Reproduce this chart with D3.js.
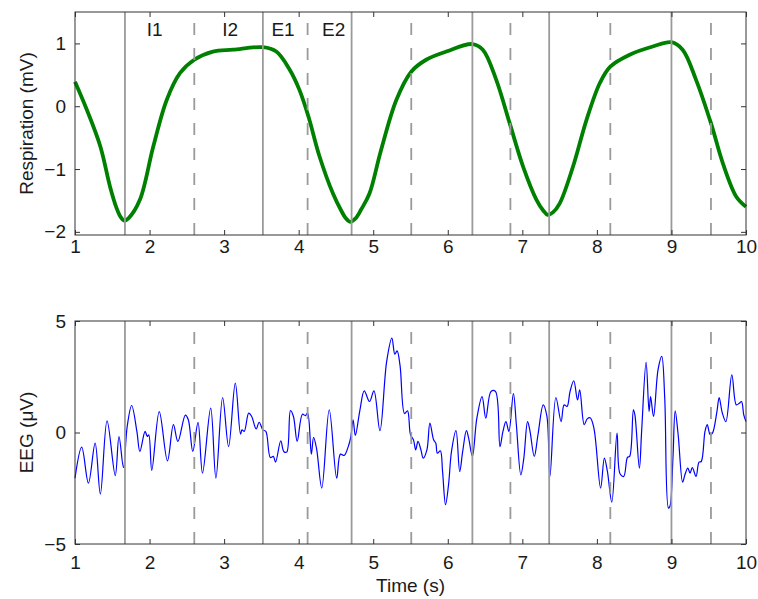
<!DOCTYPE html>
<html>
<head>
<meta charset="utf-8">
<script src="https://cdn.jsdelivr.net/npm/d3@7"></script>
<style>
    body { margin: 0; background: #fff; }
    text { font-family: "Liberation Sans", Arial, sans-serif; fill: #1a1a1a; }
    .tick line { stroke: #333; }
    .tick text { font-size: 19px; }
</style>
</head>
<body>
<div id="chart"></div>
<script>
// Tick values shared by both panels
const xTicks = [1, 2, 3, 4, 5, 6, 7, 8, 9, 10];
const respTicks = [-2, -1, 0, 1];
const eegTicks = [-5, 0, 5];

// Phase boundaries (s): solid and dashed markers
const solidMarks = [1.67, 3.52, 4.71, 6.33, 7.36, 9.0];
const dashedMarks = [2.6, 4.12, 5.51, 6.84, 8.18, 9.53];

const phaseLabels = ['I1', 'I2', 'E1', 'E2'];
const phaseLabelTime = [2.07, 3.08, 3.79, 4.47];

// Respiration signal (mV)
const respTime = [1.00, 1.16, 1.34, 1.47, 1.56, 1.61, 1.66, 1.72, 1.87, 2.05, 2.23, 2.41, 2.60, 2.85, 3.12,
    3.52, 3.70, 3.88, 4.01, 4.13, 4.28, 4.46, 4.57, 4.63, 4.69, 4.76, 4.84, 4.95, 5.10, 5.31, 5.51, 5.71, 5.98,
    6.33, 6.47, 6.65, 6.83, 7.01, 7.19, 7.28, 7.34, 7.41, 7.50, 7.68, 7.86, 8.04, 8.18, 8.44, 8.75, 9.00, 9.15,
    9.33, 9.53, 9.69, 9.87, 10.0];
const respValue = [0.39, -0.06, -0.64, -1.28, -1.63, -1.76, -1.82, -1.78, -1.49, -0.64, 0.10, 0.53, 0.74, 0.87, 0.90,
    0.94, 0.87, 0.58, 0.26, -0.16, -0.80, -1.39, -1.66, -1.78, -1.84, -1.79, -1.64, -1.39, -0.72, 0.10, 0.55, 0.74, 0.87,
    0.99, 0.90, 0.42, -0.27, -0.96, -1.49, -1.66, -1.73, -1.69, -1.55, -0.96, -0.22, 0.37, 0.63, 0.82, 0.95, 1.02, 0.90,
    0.42, -0.27, -0.91, -1.44, -1.60];

// EEG signal (uV)
const eegTime = [1.00, 1.09, 1.18, 1.27, 1.34, 1.43, 1.54, 1.59, 1.65, 1.70, 1.76, 1.83, 1.87, 1.94, 1.97, 1.99,
    2.03, 2.13, 2.24, 2.32, 2.38, 2.48, 2.52, 2.58, 2.65, 2.71, 2.82, 2.89, 2.98, 3.06, 3.15, 3.22, 3.24,
    3.27, 3.33, 3.37, 3.43, 3.47, 3.52, 3.56, 3.62, 3.66, 3.69, 3.76, 3.80, 3.84, 3.89, 3.93, 3.98, 4.05,
    4.09, 4.12, 4.17, 4.20, 4.24, 4.31, 4.41, 4.51, 4.56, 4.61, 4.67, 4.70, 4.73, 4.76, 4.82, 4.88, 4.95,
    5.01, 5.09, 5.18, 5.25, 5.29, 5.32, 5.36, 5.42, 5.46, 5.50, 5.54, 5.57, 5.60, 5.64, 5.67, 5.72, 5.76,
    5.81, 5.84, 5.86, 5.90, 5.93, 5.97, 6.01, 6.05, 6.11, 6.16, 6.20, 6.25, 6.28, 6.33, 6.39, 6.46, 6.51,
    6.58, 6.64, 6.70, 6.74, 6.78, 6.82, 6.88, 6.92, 6.98, 7.02, 7.07, 7.10, 7.16, 7.21, 7.28, 7.33, 7.37,
    7.45, 7.52, 7.56, 7.60, 7.64, 7.69, 7.74, 7.77, 7.83, 7.87, 7.91, 7.96, 8.05, 8.10, 8.14, 8.20, 8.27,
    8.31, 8.36, 8.41, 8.44, 8.49, 8.51, 8.57, 8.60, 8.66, 8.70, 8.72, 8.76, 8.82, 8.87, 8.91, 8.96, 8.98,
    9.02, 9.05, 9.09, 9.15, 9.18, 9.22, 9.25, 9.28, 9.33, 9.37, 9.40, 9.45, 9.48, 9.52, 9.55, 9.61, 9.64,
    9.68, 9.73, 9.81, 9.87, 9.91, 9.94, 9.97, 10.0];
const eegValue = [-2.05, -0.66, -2.27, -0.48, -2.76, 0.52, -1.93, -0.18, -1.57, 0.27, 1.21, 0.05, -0.85, 0.05, -0.18, -0.10,
    -1.70, 0.94, -1.27, 0.35, -0.40, 0.78, 0.57, -0.85, 0.45, -1.82, 1.09, -2.05, 1.57, -0.63, 2.21, -0.07, 0.12,
    0.05, 0.87, 0.72, 0.16, 0.46, 0.12, 0.05, -1.12, -1.07, -1.33, -0.37, -0.85, -0.88, 0.98, 0.72, -0.40, 0.82,
    0.76, 0.87, -0.97, -0.22, -0.72, -2.49, 1.02, -2.05, -0.97, -1.03, -0.58, -0.18, 0.57, -0.13, 0.97, 1.87, 1.39,
    1.87, 0.08, 3.18, 4.23, 3.51, 3.66, 3.00, 0.85, 0.97, -0.10, -0.33, -0.78, -0.40, -0.78, -1.15, -0.78, 0.42,
    -0.33, -0.48, -0.93, -0.82, -1.75, -3.24, -2.35, -0.85, 0.08, -1.75, -0.85, 0.08, -0.25, -1.07, 0.64, 1.61, 0.64,
    1.84, 1.84, -0.63, 0.05, 0.49, 0.05, 1.75, 0.35, -1.90, -1.15, 0.49, 0.12, -1.07, -0.10, 1.24, 0.72, -1.97,
    1.57, 0.49, 1.24, 1.17, 1.84, 2.32, 1.46, 1.91, 0.35, 0.61, 0.66, 0.20, -2.49, -1.15, -1.72, -3.12, -0.03,
    -1.85, -1.97, -1.12, -1.07, 1.02, 0.79, -1.60, 0.05, 3.16, 0.94, 1.61, 0.72, 2.81, 3.41, 1.54, -3.39, -3.31,
    -1.15, 0.97, -0.10, -2.23, -1.90, -1.60, -1.82, -1.57, -1.97, -1.33, -1.30, 0.05, 0.35, -0.10, -0.03, 0.94, 1.57,
    0.91, 0.49, 2.59, 1.24, 1.31, 1.39, 0.79, 0.49];

const width = 758, height = 599;
const left = 75, right = 746;

const svg = d3.select('#chart').append('svg')
    .attr('width', width)
    .attr('height', height);

svg.append('rect').attr('width', width).attr('height', height).attr('fill', '#fff');

const x = d3.scaleLinear().domain([1, 10]).range([left, right]);

function drawPanel(opts) {
    const y = d3.scaleLinear().domain(opts.yDomain).range([opts.bottom, opts.top]);
    const g = svg.append('g');

    // signal
    g.append('path')
        .datum(d3.range(opts.times.length))
        .attr('fill', 'none')
        .attr('stroke', opts.color)
        .attr('stroke-width', opts.lineWidth)
        .attr('stroke-linejoin', 'round')
        .attr('d', d3.line()
            .x(i => x(opts.times[i]))
            .y(i => y(opts.values[i]))
            .curve(d3.curveCatmullRom.alpha(0.5)));

    // phase markers
    g.selectAll('.solid-mark')
        .data(solidMarks)
        .enter().append('line')
        .attr('x1', d => x(d)).attr('x2', d => x(d))
        .attr('y1', opts.top).attr('y2', opts.bottom)
        .attr('stroke', '#9a9a9a')
        .attr('stroke-width', 1.8);

    g.selectAll('.dashed-mark')
        .data(dashedMarks)
        .enter().append('line')
        .attr('x1', d => x(d)).attr('x2', d => x(d))
        .attr('y1', opts.top).attr('y2', opts.bottom)
        .attr('stroke', '#9a9a9a')
        .attr('stroke-width', 1.8)
        .attr('stroke-dasharray', '12,13')
        .attr('stroke-dashoffset', 14);

    // axes, ticks pointing inward like MATLAB
    const fmt = d3.format('d');
    g.append('g').attr('transform', `translate(0,${opts.bottom})`)
        .call(d3.axisBottom(x).tickValues(xTicks).tickSize(-5).tickPadding(opts.xPad).tickFormat(fmt));
    g.append('g').attr('transform', `translate(0,${opts.top})`)
        .call(d3.axisTop(x).tickValues(xTicks).tickSize(-5).tickFormat(''));
    g.append('g').attr('transform', `translate(${left},0)`)
        .call(d3.axisLeft(y).tickValues(opts.yTicks).tickSize(-5).tickPadding(9).tickFormat(fmt));
    g.append('g').attr('transform', `translate(${right},0)`)
        .call(d3.axisRight(y).tickValues(opts.yTicks).tickSize(-5).tickFormat(''));
    g.selectAll('.domain').remove();

    g.append('rect')
        .attr('x', left).attr('y', opts.top)
        .attr('width', right - left).attr('height', opts.bottom - opts.top)
        .attr('fill', 'none')
        .attr('stroke', '#333')
        .attr('stroke-width', 1);

    g.append('text')
        .attr('transform', `translate(33,${(opts.top + opts.bottom) / 2}) rotate(-90)`)
        .attr('text-anchor', 'middle')
        .attr('font-size', '19px')
        .text(opts.yLabel);

    return { g, y };
}

const respPanel = drawPanel({
    top: 12, bottom: 235, yDomain: [-2.05, 1.5], yTicks: respTicks,
    times: respTime, values: respValue, color: '#008000', lineWidth: 3.8,
    yLabel: 'Respiration (mV)', xPad: 5
});

respPanel.g.selectAll('.phase-label')
    .data(phaseLabels)
    .enter().append('text')
    .attr('x', (d, i) => x(phaseLabelTime[i]))
    .attr('y', 36)
    .attr('text-anchor', 'middle')
    .attr('font-size', '19px')
    .text(d => d);

const eegPanel = drawPanel({
    top: 321, bottom: 544, yDomain: [-5, 5], yTicks: eegTicks,
    times: eegTime, values: eegValue, color: '#0000ff', lineWidth: 1.2,
    yLabel: 'EEG (\u03bcV)', xPad: 12
});

svg.append('text')
    .attr('x', (left + right) / 2)
    .attr('y', 592)
    .attr('text-anchor', 'middle')
    .attr('font-size', '19px')
    .text('Time (s)');
</script>
</body>
</html>
